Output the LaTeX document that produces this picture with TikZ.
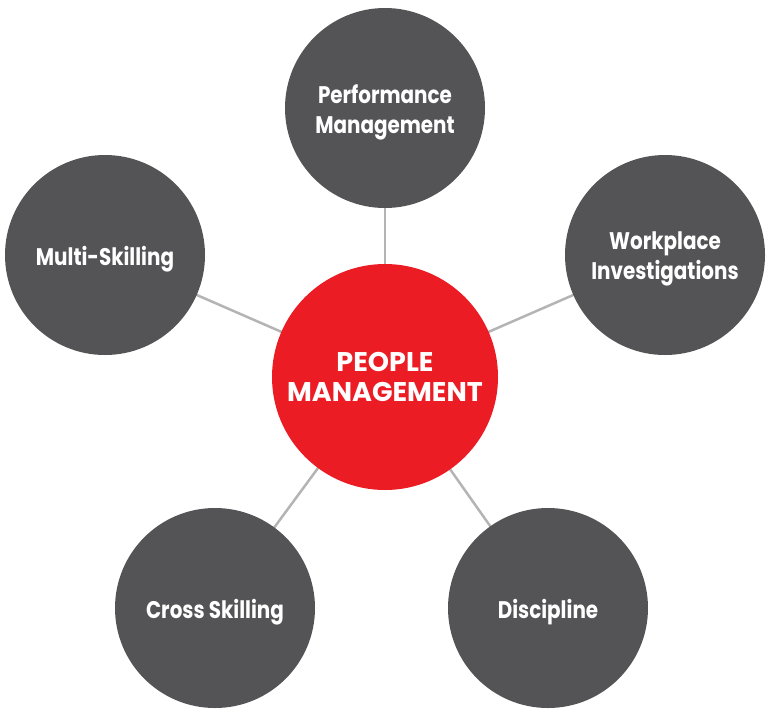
\documentclass[tikz,border=0pt]{standalone}
\usepackage{fontspec}
\setmainfont{Poppins}
\newfontfamily\outerfont[FakeStretch=0.83]{Poppins}
\definecolor{darkgray}{HTML}{545456}
\definecolor{hubred}{HTML}{EC1C24}
\definecolor{linkgray}{HTML}{B4B4B4}
\begin{document}
\begin{tikzpicture}[x=1pt,y=-1pt,
  outer/.style={circle,fill=darkgray,minimum size=200pt,inner sep=0pt},
  outertext/.style={text=white,align=center,inner sep=0pt,yshift=-4pt,
    font=\outerfont\fontsize{24}{30}\selectfont\bfseries},
  hub/.style={circle,fill=hubred,minimum size=226pt,inner sep=0pt,text=white,align=center,
    font=\fontsize{27}{30}\selectfont\bfseries},
  link/.style={draw=linkgray,line width=2.5pt}]
\useasboundingbox (0,0) rectangle (770,715);
\coordinate (cH) at (385,377);
\coordinate (cP) at (385,108);
\coordinate (cW) at (665,255);
\coordinate (cM) at (105,255);
\coordinate (cC) at (215,608);
\coordinate (cD) at (548,608);
\draw[link] (cH) -- (cP);
\draw[link] (cH) -- (cW);
\draw[link] (cH) -- (cM);
\draw[link] (cH) -- (cC);
\draw[link] (cH) -- (cD);
\node[outer] (perf) at (cP) {};
\node[outer] (work) at (cW) {};
\node[outer] (multi) at (cM) {};
\node[outer] (cross) at (cC) {};
\node[outer] (disc) at (cD) {};
\node[outertext] (perfT) at (perf.center) {Performance\\Management};
\node[outertext] (workT) at (work.center) {Workplace\\Investigations};
\node[outertext] (multiT) at (multi.center) {Multi-Skilling};
\node[outertext] (crossT) at (cross.center) {Cross Skilling};
\node[outertext] (discT) at (disc.center) {Discipline};
\node[hub] (hub) at (cH) {PEOPLE\\MANAGEMENT};
\end{tikzpicture}
\end{document}
